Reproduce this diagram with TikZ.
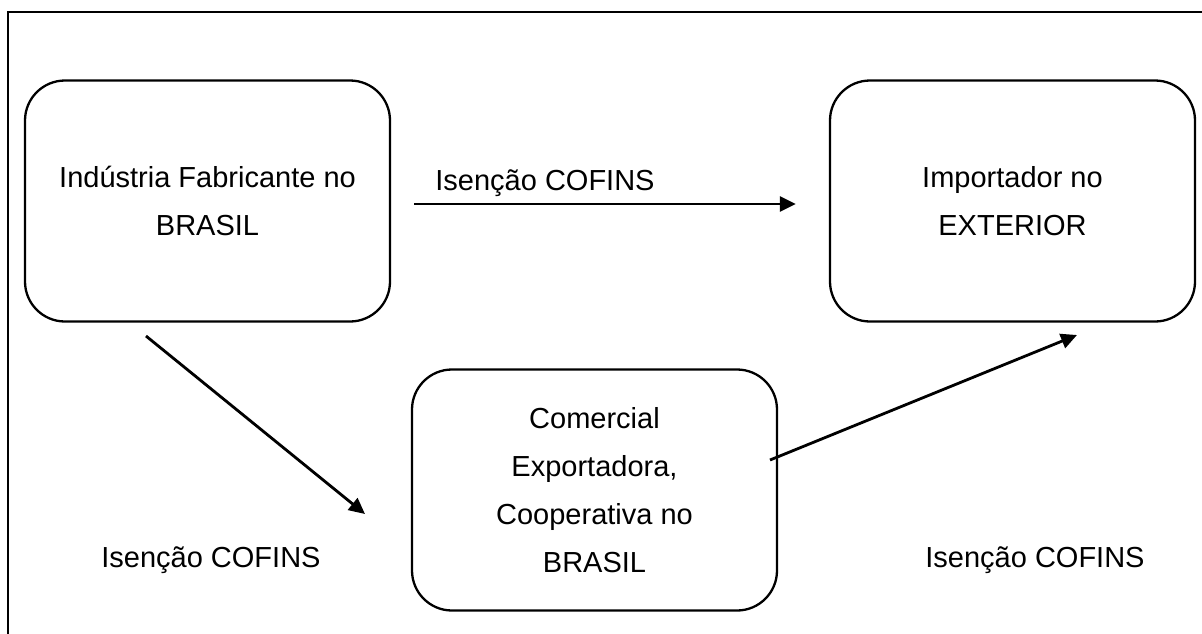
\documentclass[tikz,border=0pt]{standalone}
\usepackage{fontspec}
\setmainfont{Liberation Sans}
\usetikzlibrary{arrows.meta,positioning}

\begin{document}
\begin{tikzpicture}[
  x=1pt,y=-1pt,
  party/.style={
    draw=black,
    line width=2.3pt,
    rounded corners=40pt,
    align=center,
    inner sep=0pt,
    minimum width=365pt,
    minimum height=241pt,
    font=\fontsize{29}{48}\selectfont
  },
  tax/.style={anchor=base,inner sep=0pt,font=\fontsize{29}{35}\selectfont},
  flow/.style={
    -{Triangle[length=16pt,width=15pt]},
    draw=black,
    line width=2.8pt
  }
]
\useasboundingbox (0,0) rectangle (1202,633);
\clip (0,0) rectangle (1202,633);

% Outer frame (open to the right and below)
\draw[line width=2.3pt] (8,660) -- (8,12) -- (1230,12);

% Parties
\node[party] (industry) at (207.5,201)
  {Ind\'ustria Fabricante no\\BRASIL};
\node[party] (importer) at (1012.5,201)
  {Importador no\\EXTERIOR};
\node[party] (trading) at (594.5,490)
  {Comercial\\Exportadora,\\Cooperativa no\\BRASIL};

% Tax labels
\node[tax] (taxtop) at (545,190) {Isenção COFINS};
\node[tax] (taxleft) at (211,567) {Isenção COFINS};
\node[tax] (taxright) at (1035,567) {Isenção COFINS};

% Free ends of the diagonal flows
\coordinate (downstart) at (146,336);
\coordinate (downend) at (365,514);
\coordinate (upstart) at (770,460);
\coordinate (upend) at (1077,335);

% Flows
\draw[flow,shorten <=23pt,shorten >=33pt] ([yshift=-3pt]industry.east) -- ([yshift=-3pt]importer.west);
\draw[flow] (downstart) -- (downend);
\draw[flow] (upstart) -- (upend);
\end{tikzpicture}
\end{document}
